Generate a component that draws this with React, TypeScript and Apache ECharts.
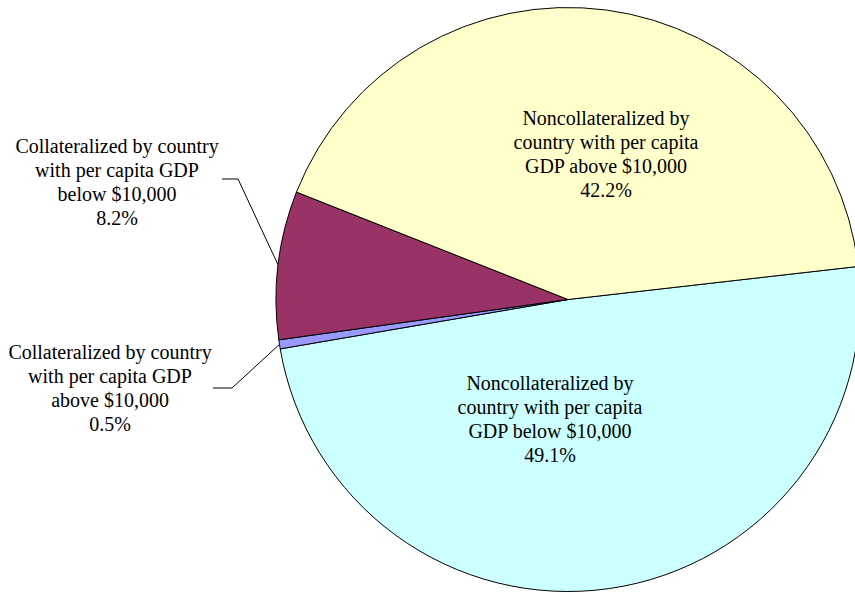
import React, { useEffect, useRef } from "react";
import * as echarts from "echarts";

// Data (clockwise order starting at the right)
const categories = [
  "Noncollateralized by\ncountry with per capita\nGDP below $10,000",
  "Collateralized by country\nwith per capita GDP\nabove $10,000",
  "Collateralized by country\nwith per capita GDP\nbelow $10,000",
  "Noncollateralized by\ncountry with per capita\nGDP above $10,000",
];
const shares = [49.1, 0.5, 8.2, 42.2];
const colors = ["#CCFFFF", "#9999FF", "#993366", "#FFFFCC"];
const outside = [false, true, true, false];

// Label layout (centre of each label block) and leader-line elbows
const labelCenters: [number, number][] = [
  [550, 419],
  [110, 387.5],
  [117, 181.5],
  [606, 154],
];
const leaderElbows: ([number, number][] | null)[] = [
  null,
  [
    [232, 388],
    [213, 388],
  ],
  [
    [238, 179],
    [222, 179],
  ],
  null,
];

export default function App() {
  const ref = useRef<HTMLDivElement>(null);
  useEffect(() => {
    if (!ref.current) return;
    const chart = echarts.init(ref.current, undefined, { renderer: "svg" });
    const font = "Times New Roman";
    const labelStyle = {
      color: "#000000",
      fontFamily: font,
      fontSize: 20,
      lineHeight: 24,
      align: "center",
    };
    chart.setOption({
      animation: false,
      backgroundColor: "#ffffff",
      textStyle: { fontFamily: font },
      series: [
        {
          type: "pie",
          center: [568, 299.5],
          radius: 292,
          startAngle: 6.5,
          clockwise: true,
          avoidLabelOverlap: false,
          itemStyle: { borderColor: "#000000", borderWidth: 1 },
          emphasis: { disabled: true },
          label: {
            show: true,
            ...labelStyle,
            formatter: (p: any) => `${p.name}\n${Number(p.value).toFixed(1)}%`,
          },
          labelLine: {
            show: true,
            length: 20,
            length2: 20,
            lineStyle: { color: "#000000", width: 1 },
          },
          labelLayout: (params: any) => {
            const i = params.dataIndex;
            const [x, y] = labelCenters[i];
            const res: any = { x, y, align: "center", verticalAlign: "middle" };
            const elbow = leaderElbows[i];
            if (elbow && params.labelLinePoints) {
              res.labelLinePoints = [params.labelLinePoints[0], elbow[0], elbow[1]];
            }
            return res;
          },
          data: categories.map((name, i) => ({
            name,
            value: shares[i],
            itemStyle: { color: colors[i] },
            label: { position: outside[i] ? "outside" : "inside", ...labelStyle },
            labelLine: { show: outside[i] },
          })),
        },
      ],
    });
    return () => chart.dispose();
  }, []);
  return (
    <div
      ref={ref}
      style={{ position: "fixed", left: 0, top: 0, width: 855, height: 594 }}
    />
  );
}
